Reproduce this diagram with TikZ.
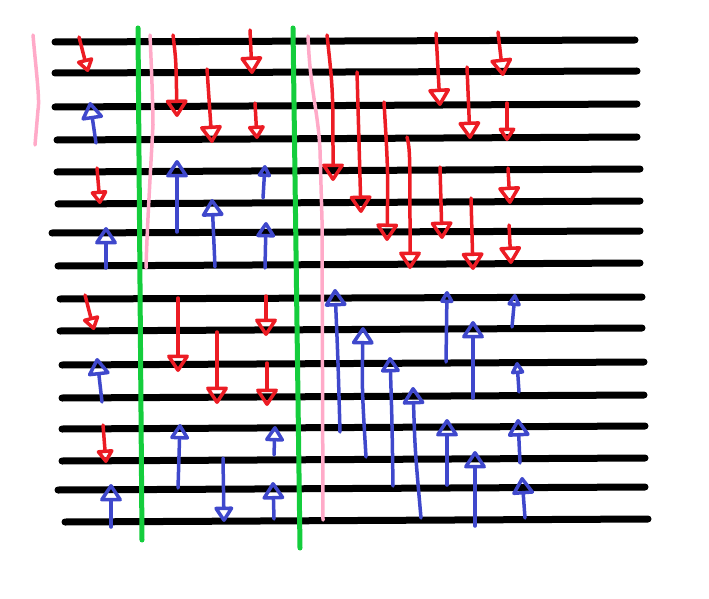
\documentclass[tikz,border=0pt]{standalone}
\usetikzlibrary{arrows.meta}
\definecolor{pRed}{RGB}{236,28,36}
\definecolor{pBlue}{RGB}{63,72,204}
\definecolor{pGreen}{RGB}{20,205,60}
\definecolor{pPink}{RGB}{255,170,200}
\tikzset{
  staff/.style={line width=7pt, line cap=round, black},
  gline/.style={line width=5pt, line cap=round, pGreen},
  pline/.style={line width=3.5pt, line cap=round, pPink},
  redarr/.style={line width=3.5pt, line cap=round, line join=round, pRed, -{Triangle[open, length=19pt, width=24pt, line width=3.5pt, round]}},
  bluearr/.style={line width=3.5pt, line cap=round, line join=round, pBlue, -{Triangle[open, length=19pt, width=24pt, line width=3.5pt, round]}},
  smallred/.style={redarr, -{Triangle[open, length=15pt, width=19pt, line width=3.5pt, round]}},
  smallblue/.style={bluearr, -{Triangle[open, length=17pt, width=21pt, line width=3.5pt, round]}},
  tinyblue/.style={bluearr, -{Triangle[open, length=14pt, width=15pt, line width=3.5pt, round]}}
}
\begin{document}
\begin{tikzpicture}[x=1pt,y=-1pt]
\useasboundingbox (0,0) rectangle (709,599);
% staff lines
\draw[staff] (55,42) -- (635,40);
\draw[staff] (55,73) -- (637,71);
\draw[staff] (55,107) -- (637,104);
\draw[staff] (57,140) -- (637,137);
\draw[staff] (57,172) -- (640,169);
\draw[staff] (58,204) -- (640,201);
\draw[staff] (52,233) -- (640,231);
\draw[staff] (58,266) -- (640,263);
\draw[staff] (60,299) -- (642,297);
\draw[staff] (60,331) -- (642,328);
\draw[staff] (62,365) -- (644,362);
\draw[staff] (62,398) -- (644,395);
\draw[staff] (62,429) -- (645,426);
\draw[staff] (62,461) -- (645,458);
\draw[staff] (58,490) -- (645,487);
\draw[staff] (65,522) -- (648,519);
% green bars
\draw[gline] (138,28) -- (142,540);
\draw[gline] (293,28) -- (300,548);
% pink lines
\draw[pline] (33,35) .. controls (36,70) and (40,100) .. (38,110) -- (35,145);
\draw[pline] (150,35) .. controls (152,80) and (153,110) .. (153,125) .. controls (150,180) and (147,230) .. (146,268);
\draw[pline] (308,36) .. controls (310,90) and (318,110) .. (320,150) -- (322,220) -- (323,520);
% red arrows (top block)
\draw[smallred] (79,37) -- (88,72);
\draw[smallred] (97,168) -- (100,204);
\draw[redarr] (173,35) .. controls (176,60) .. (177,117);
\draw[redarr] (207,69) -- (212,143);
\draw[redarr] (250,30) -- (252,74);
\draw[smallred] (255,103) -- (257,139);
\draw[redarr] (327,35) .. controls (333,90) .. (333,181);
\draw[redarr] (357,72) -- (361,213);
\draw[redarr] (384,102) .. controls (388,170) .. (387,241);
\draw[redarr] (407,137) .. controls (410,150) .. (410,269);
\draw[redarr] (436,33) -- (440,106);
\draw[redarr] (467,67) -- (470,139);
\draw[redarr] (498,32) -- (503,76);
\draw[smallred] (507,103) -- (507,141);
\draw[redarr] (440,167) -- (442,239);
\draw[redarr] (471,198) -- (473,270);
\draw[redarr] (508,168) -- (510,204);
\draw[redarr] (509,225) -- (511,264);
% red arrows (bottom block)
\draw[smallred] (85,295) -- (94,330);
\draw[smallred] (103,425) -- (106,463);
\draw[redarr] (178,298) -- (178,372);
\draw[redarr] (217,332) -- (217,404);
\draw[redarr] (266,296) -- (266,336);
\draw[redarr] (267,363) -- (267,406);
% blue arrows (top block)
\draw[bluearr] (96,143) -- (90,102);
\draw[bluearr] (106,268) -- (106,227);
\draw[bluearr] (177,232) -- (177,160);
\draw[bluearr] (215,267) -- (212,199);
\draw[tinyblue] (263,198) -- (265,165);
\draw[smallblue] (265,268) -- (266,222);
% blue arrows (bottom block)
\draw[bluearr] (102,402) -- (97,358);
\draw[bluearr] (111,527) -- (111,484);
\draw[smallblue] (178,488) -- (180,424);
\draw[smallblue] (223,458) -- (224,522);
\draw[smallblue] (274,455) -- (275,426);
\draw[bluearr] (274,519) -- (273,482);
\draw[bluearr] (340,432) .. controls (338,360) .. (335,289);
\draw[bluearr] (366,457) .. controls (362,390) .. (363,327);
\draw[smallblue] (393,486) .. controls (392,420) .. (390,357);
\draw[bluearr] (421,518) .. controls (415,450) .. (413,387);
\draw[tinyblue] (446,362) -- (447,291);
\draw[bluearr] (473,398) -- (473,321);
\draw[tinyblue] (512,327) -- (515,294);
\draw[tinyblue] (519,392) -- (517,362);
\draw[bluearr] (447,485) -- (447,419);
\draw[bluearr] (475,526) -- (475,451);
\draw[bluearr] (520,463) -- (518,419);
\draw[bluearr] (525,518) -- (522,477);
\end{tikzpicture}
\end{document}
